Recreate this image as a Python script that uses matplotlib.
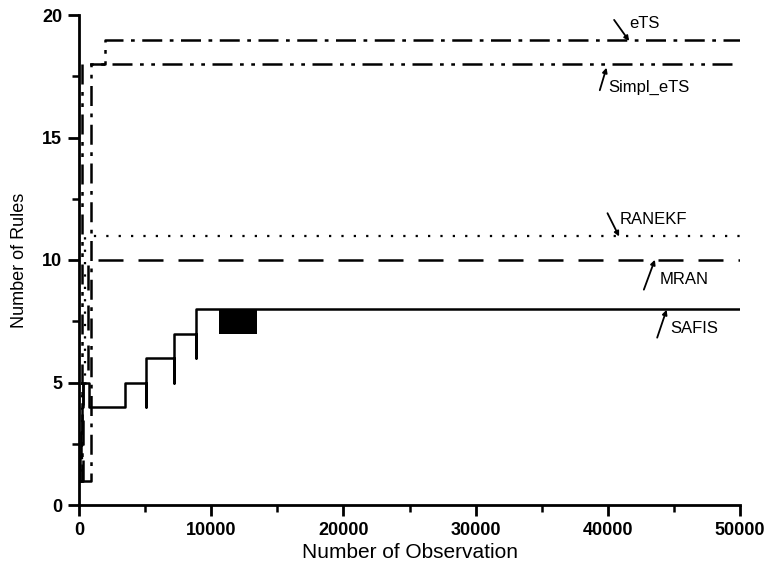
import matplotlib
matplotlib.use("Agg")
import matplotlib.pyplot as plt
from matplotlib.ticker import MultipleLocator

plt.rcParams['font.family'] = ['Liberation Sans', 'DejaVu Sans']

# ---- data ----
safis_x = [0, 80, 80, 160, 160, 240, 240, 330, 330, 750, 750, 3510, 3510, 5090, 5090, 5090,
           7218, 7218, 7218, 8820, 8820, 8820, 50000]
safis_y = [1, 1, 2, 2, 3, 3, 4, 4, 5, 5, 4, 4, 5, 5, 4, 6,
           6, 5, 7, 7, 6, 8, 8]
safis_block_x = [10600, 13480]
safis_block_lo = 7
safis_block_hi = 8

mran_x = [0, 300, 300, 650, 650, 50000]
mran_y = [1, 1, 5, 5, 10, 10]

ranekf_x = [0, 200, 200, 450, 450, 50000]
ranekf_y = [1, 1, 5, 5, 11, 11]

ets_x = [0, 880, 880, 1950, 1950, 50000]
ets_y = [1, 1, 18, 18, 19, 19]

simpl_x = [0, 250, 250, 50000]
simpl_y = [1, 1, 18, 18]

labels = ["eTS", "Simpl_eTS", "RANEKF", "MRAN", "SAFIS"]
label_pos = [(41650, 19.65), (40050, 17.05), (40900, 11.65), (43900, 9.2), (44750, 7.2)]
arrow_tail = [(40477, 19.80), (39394, 16.93), (39977, 11.91), (42727, 8.79), (43735, 6.83)]
arrow_tip = [(41614, 18.94), (39902, 17.85), (40856, 10.96), (43561, 10.01), (44447, 7.97)]

# ---- figure ----
fig = plt.figure(figsize=(7.68, 5.72), dpi=100)
ax = fig.add_axes([79/768, (572-505)/572, (740-79)/768, (505-15)/572])

lw = 1.8
ax.plot(safis_x, safis_y, color='black', lw=lw, ls='-')
ax.fill_between(safis_block_x, safis_block_lo, safis_block_hi, color='black', lw=0)
ax.plot(mran_x, mran_y, color='black', lw=lw, ls=(0, (10, 6)))
ax.plot(ranekf_x, ranekf_y, color='black', lw=lw*0.9, ls=(0, (1, 4.5)))
ax.plot(ets_x, ets_y, color='black', lw=lw, ls=(0, (8, 3, 1.5, 3)))
ax.plot(simpl_x, simpl_y, color='black', lw=lw, ls=(0, (8, 3, 1.5, 3, 1.5, 3)))

for lab, pos, tail, tip in zip(labels, label_pos, arrow_tail, arrow_tip):
    ax.annotate('', xy=tip, xytext=tail,
                arrowprops=dict(arrowstyle='-|>', color='black', lw=1.3,
                                mutation_scale=7, shrinkA=0, shrinkB=0),
                annotation_clip=False)
    ax.text(pos[0], pos[1], lab, fontsize=12, va='center', ha='left', clip_on=False)

ax.set_xlim(0, 50000)
ax.set_ylim(0, 20)
ax.xaxis.set_major_locator(MultipleLocator(10000))
ax.xaxis.set_minor_locator(MultipleLocator(5000))
ax.yaxis.set_major_locator(MultipleLocator(5))
ax.yaxis.set_minor_locator(MultipleLocator(2.5))

for s in ['top', 'right']:
    ax.spines[s].set_visible(False)
for s in ['left', 'bottom']:
    ax.spines[s].set_linewidth(2)

ax.tick_params(which='major', direction='out', length=8, width=2, labelsize=13, pad=4)
ax.tick_params(which='minor', direction='out', length=5, width=1.8)
for t in ax.get_xticklabels() + ax.get_yticklabels():
    t.set_fontweight('bold')

ax.set_xlabel('Number of Observation', fontsize=15, labelpad=3)
ax.set_ylabel('Number of Rules', fontsize=13, labelpad=10)

fig.savefig('out.png', dpi=100)
